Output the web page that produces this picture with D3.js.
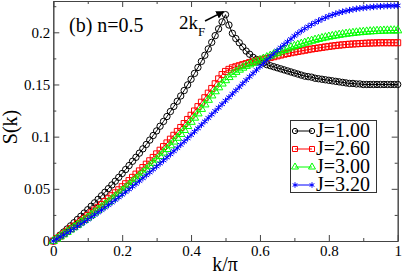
<!DOCTYPE html>
<html>
<head>
<meta charset="utf-8">
<script src="https://cdn.jsdelivr.net/npm/d3@7"></script>
<style>
  html, body { margin: 0; padding: 0; background: #fff; }
  svg { display: block; }
</style>
</head>
<body>
<div id="chart"></div>
<script>
// k/pi grid (one point every 0.01)
const kValues = [
  0.00, 0.01, 0.02, 0.03, 0.04, 0.05, 0.06, 0.07, 0.08, 0.09,
  0.10, 0.11, 0.12, 0.13, 0.14, 0.15, 0.16, 0.17, 0.18, 0.19,
  0.20, 0.21, 0.22, 0.23, 0.24, 0.25, 0.26, 0.27, 0.28, 0.29,
  0.30, 0.31, 0.32, 0.33, 0.34, 0.35, 0.36, 0.37, 0.38, 0.39,
  0.40, 0.41, 0.42, 0.43, 0.44, 0.45, 0.46, 0.47, 0.48, 0.49,
  0.50,
  0.51, 0.52, 0.53, 0.54, 0.55, 0.56, 0.57, 0.58, 0.59, 0.60,
  0.61, 0.62, 0.63, 0.64, 0.65, 0.66, 0.67, 0.68, 0.69, 0.70,
  0.71, 0.72, 0.73, 0.74, 0.75, 0.76, 0.77, 0.78, 0.79, 0.80,
  0.81, 0.82, 0.83, 0.84, 0.85, 0.86, 0.87, 0.88, 0.89, 0.90,
  0.91, 0.92, 0.93, 0.94, 0.95, 0.96, 0.97, 0.98, 0.99, 1.00
];

const sJ100 = [
  0, 0.0028, 0.0057, 0.0086, 0.0115, 0.0145, 0.0175, 0.0206, 0.0237, 0.0268,
  0.0300, 0.0333, 0.0366, 0.0399, 0.0433, 0.0467, 0.0502, 0.0537, 0.0573, 0.0610,
  0.0647, 0.0685, 0.0723, 0.0764, 0.0802, 0.0842, 0.0883, 0.0925, 0.0967, 0.1011,
  0.1055, 0.1100, 0.1146, 0.1193, 0.1241, 0.1290, 0.1339, 0.1390, 0.1442, 0.1496,
  0.1550, 0.1606, 0.1663, 0.1721, 0.1780, 0.1841, 0.1904, 0.1968, 0.2033, 0.2100,
  0.2169,
  0.207, 0.199, 0.194, 0.190, 0.186, 0.182, 0.179, 0.176, 0.174, 0.172,
  0.1705, 0.169, 0.168, 0.167, 0.166, 0.165, 0.164, 0.163, 0.162, 0.161,
  0.160, 0.159, 0.158, 0.1575, 0.157, 0.156, 0.1555, 0.155, 0.1545, 0.154,
  0.1535, 0.153, 0.1525, 0.152, 0.1515, 0.151, 0.151, 0.1505, 0.1505, 0.150,
  0.150, 0.150, 0.150, 0.150, 0.150, 0.150, 0.150, 0.150, 0.150, 0.150
];

const sJ260 = [
  0, 0.0023, 0.0047, 0.0070, 0.0094, 0.0119, 0.0143, 0.0168, 0.0193, 0.0218,
  0.0244, 0.0270, 0.0297, 0.0323, 0.0350, 0.0378, 0.0405, 0.0434, 0.0462, 0.0491,
  0.0520, 0.0549, 0.0579, 0.0610, 0.0641, 0.0672, 0.0704, 0.0736, 0.0769, 0.0801,
  0.0835, 0.0870, 0.0905, 0.0940, 0.0976, 0.1013, 0.1050, 0.1088, 0.1126, 0.1165,
  0.1205, 0.1246, 0.1288, 0.1330, 0.1373, 0.1417, 0.1462, 0.1507, 0.1554, 0.1595,
  0.1625,
  0.1645, 0.166, 0.167, 0.168, 0.169, 0.170, 0.171, 0.1718, 0.1726, 0.1734,
  0.1742, 0.175, 0.1758, 0.1766, 0.1774, 0.1782, 0.179, 0.1797, 0.1804, 0.181,
  0.1816, 0.1822, 0.1828, 0.1834, 0.184, 0.1845, 0.185, 0.1855, 0.186, 0.1865,
  0.1869, 0.1873, 0.1877, 0.188, 0.1883, 0.1886, 0.1888, 0.189, 0.1892, 0.1894,
  0.1896, 0.1897, 0.1898, 0.1899, 0.190, 0.190, 0.190, 0.190, 0.190, 0.190
];

const sJ300 = [
  0, 0.0021, 0.0043, 0.0064, 0.0086, 0.0109, 0.0131, 0.0154, 0.0177, 0.0200,
  0.0224, 0.0248, 0.0273, 0.0298, 0.0323, 0.0348, 0.0374, 0.0400, 0.0427, 0.0453,
  0.0481, 0.0509, 0.0537, 0.0566, 0.0595, 0.0624, 0.0654, 0.0685, 0.0716, 0.0748,
  0.0780, 0.0813, 0.0847, 0.0881, 0.0916, 0.0952, 0.0988, 0.1025, 0.1063, 0.1101,
  0.1141, 0.1181, 0.1222, 0.1265, 0.1308, 0.1352, 0.1394, 0.1434, 0.1472, 0.1508,
  0.1540,
  0.1570, 0.1597, 0.1620, 0.1641, 0.1660, 0.1677, 0.1692, 0.1706, 0.1719, 0.1732,
  0.1746, 0.1760, 0.1774, 0.1788, 0.1802, 0.1816, 0.1829, 0.1842, 0.1855, 0.1867,
  0.1878, 0.1889, 0.1899, 0.1909, 0.1918, 0.1927, 0.1935, 0.1943, 0.1950, 0.1957,
  0.1963, 0.1969, 0.1975, 0.1980, 0.1985, 0.1989, 0.1993, 0.1997, 0.2000, 0.2003,
  0.2006, 0.2008, 0.2010, 0.2012, 0.2014, 0.2015, 0.2016, 0.2017, 0.2017, 0.2018
];

const sJ320 = [
  0, 0.0019, 0.0039, 0.0058, 0.0079, 0.0099, 0.0120, 0.0141, 0.0162, 0.0184,
  0.0206, 0.0228, 0.0251, 0.0274, 0.0297, 0.0321, 0.0345, 0.0369, 0.0394, 0.0419,
  0.0444, 0.0470, 0.0495, 0.0522, 0.0548, 0.0575, 0.0602, 0.0630, 0.0657, 0.0686,
  0.0714, 0.0743, 0.0772, 0.0801, 0.0831, 0.0861, 0.0891, 0.0922, 0.0953, 0.0984,
  0.1016, 0.1048, 0.1080, 0.1113, 0.1146, 0.1179, 0.1212, 0.1245, 0.1278, 0.1311,
  0.1344,
  0.1377, 0.1410, 0.1443, 0.1476, 0.1509, 0.1542, 0.1575, 0.1607, 0.1639, 0.1671,
  0.1703, 0.1734, 0.1765, 0.1795, 0.1825, 0.1854, 0.1882, 0.1909, 0.1935, 0.1965,
  0.1990, 0.2013, 0.2035, 0.2056, 0.2075, 0.2093, 0.2110, 0.2126, 0.2141, 0.2155,
  0.2167, 0.2178, 0.2188, 0.2197, 0.2205, 0.2212, 0.2219, 0.2225, 0.2230, 0.2234,
  0.2238, 0.2241, 0.2244, 0.2247, 0.2249, 0.2251, 0.2253, 0.2254, 0.2255, 0.2256
];

const seriesLabels = ["J=1.00", "J=2.60", "J=3.00", "J=3.20"];
const seriesColors = ["#000000", "#ff0000", "#00ff00", "#0000ff"];
const seriesValues = [sJ100, sJ260, sJ300, sJ320];

const xMajorTicks = [0, 0.2, 0.4, 0.6, 0.8, 1];
const xMajorLabels = ["0", "0.2", "0.4", "0.6", "0.8", "1"];
const xMinorTicks = [0.1, 0.3, 0.5, 0.7, 0.9];
const yMajorTicks = [0, 0.05, 0.1, 0.15, 0.2];
const yMajorLabels = ["0", "0.05", "0.1", "0.15", "0.2"];
const yMinorTicks = [0.025, 0.075, 0.125, 0.175, 0.225];

const peakK = 0.5;
const peakS = 0.2169;

const W = 402, H = 276;
const plotLeft = 53.3, plotRight = 397.7, plotTop = 1, plotBottom = 241;
const serif = "Liberation Serif";

const svg = d3.select("#chart").append("svg")
  .attr("width", W).attr("height", H)
  .attr("font-family", serif);

const x = d3.scaleLinear().domain([0, 1]).range([plotLeft, plotRight]);
const y = d3.scaleLinear().domain([0, 0.23]).range([plotBottom, plotTop]);

const axisColor = "#444";

function styleAxis(g) {
  g.attr("font-family", serif);
  g.select(".domain").attr("stroke", axisColor);
  g.selectAll(".tick line").attr("stroke", axisColor);
  g.selectAll("text").attr("font-family", serif)
    .attr("font-size", 15).attr("fill", "#000");
}

// bottom
svg.append("g").attr("transform", `translate(0,${plotBottom})`)
  .call(d3.axisBottom(x).tickValues(xMajorTicks)
    .tickFormat((d, i) => xMajorLabels[i]).tickSizeInner(-6).tickSizeOuter(0).tickPadding(4))
  .call(styleAxis);
svg.append("g").attr("transform", `translate(0,${plotBottom})`)
  .call(d3.axisBottom(x).tickValues(xMinorTicks).tickFormat("").tickSizeInner(-3).tickSizeOuter(0))
  .call(styleAxis);
// top
svg.append("g").attr("transform", `translate(0,${plotTop})`)
  .call(d3.axisTop(x).tickValues(xMajorTicks).tickFormat("").tickSizeInner(-6).tickSizeOuter(0))
  .call(styleAxis);
svg.append("g").attr("transform", `translate(0,${plotTop})`)
  .call(d3.axisTop(x).tickValues(xMinorTicks).tickFormat("").tickSizeInner(-3).tickSizeOuter(0))
  .call(styleAxis);
// left
svg.append("g").attr("transform", `translate(${plotLeft},0)`)
  .call(d3.axisLeft(y).tickValues(yMajorTicks)
    .tickFormat((d, i) => yMajorLabels[i]).tickSizeInner(-6).tickSizeOuter(0).tickPadding(3))
  .call(styleAxis);
svg.append("g").attr("transform", `translate(${plotLeft},0)`)
  .call(d3.axisLeft(y).tickValues(yMinorTicks).tickFormat("").tickSizeInner(-3).tickSizeOuter(0))
  .call(styleAxis);
// right
svg.append("g").attr("transform", `translate(${plotRight},0)`)
  .call(d3.axisRight(y).tickValues(yMajorTicks).tickFormat("").tickSizeInner(-6).tickSizeOuter(0))
  .call(styleAxis);
svg.append("g").attr("transform", `translate(${plotRight},0)`)
  .call(d3.axisRight(y).tickValues(yMinorTicks).tickFormat("").tickSizeInner(-3).tickSizeOuter(0))
  .call(styleAxis);

// markers
const markerShapes = [
  { type: d3.symbolCircle, size: 32, fill: "none" },
  { type: d3.symbolSquare, size: 36, fill: "none" },
  { type: d3.symbolTriangle, size: 30, fill: "none" },
  { type: d3.symbolAsterisk, size: 30, fill: "none" }
];

const line = d3.line().x(d => x(d.k)).y(d => y(d.s));

seriesValues.forEach((vals, si) => {
  const pts = kValues.map((k, i) => ({ k, s: vals[i] }));
  const color = seriesColors[si];
  const g = svg.append("g");
  g.append("path").datum(pts)
    .attr("d", line).attr("fill", "none")
    .attr("stroke", color).attr("stroke-width", 1);
  const m = markerShapes[si];
  g.selectAll("path.mk").data(pts).enter().append("path")
    .attr("class", "mk")
    .attr("transform", d => `translate(${x(d.k)},${y(d.s)})`)
    .attr("d", d3.symbol().type(m.type).size(m.size))
    .attr("fill", m.fill)
    .attr("stroke", color).attr("stroke-width", 1);
});

function addText(px, py, size, str) {
  return svg.append("text").attr("x", px).attr("y", py)
    .attr("font-family", serif).attr("font-size", size).attr("fill", "#000").text(str);
}

// axis titles
addText(225, 271, 20, "k/π").attr("text-anchor", "middle");
svg.append("text").attr("transform", "translate(17,127) rotate(-90)")
  .attr("font-family", serif).attr("fill", "#000")
  .attr("text-anchor", "middle").attr("font-size", 20).text("S(k)");

// panel label
addText(69, 32, 20, "(b) n=0.5");

// 2kF annotation
const kf = addText(179, 29, 19, "");
kf.append("tspan").text("2k");
kf.append("tspan").attr("font-size", 13).attr("dy", 7).text("F");

svg.append("defs").append("marker")
  .attr("id", "arrow").attr("viewBox", "0 0 10 10")
  .attr("refX", 9).attr("refY", 5)
  .attr("markerWidth", 8).attr("markerHeight", 8)
  .attr("markerUnits", "userSpaceOnUse")
  .attr("orient", "auto")
  .append("path").attr("d", "M0,0L10,5L0,10z").attr("fill", "#000");

svg.append("line")
  .attr("x1", 205).attr("y1", 21)
  .attr("x2", x(peakK) - 2).attr("y2", y(peakS) - 3)
  .attr("stroke", "#000").attr("stroke-width", 1.5)
  .attr("marker-end", "url(#arrow)");

// legend
const lg = svg.append("g");
lg.append("rect").attr("x", 290.5).attr("y", 120.5).attr("width", 86).attr("height", 72)
  .attr("fill", "#fff").attr("stroke", "#333").attr("stroke-width", 1);
seriesLabels.forEach((lab, i) => {
  const base = 137 + i * 18;
  const cy = base - 6;
  const color = seriesColors[i];
  lg.append("line").attr("x1", 295).attr("x2", 312).attr("y1", cy).attr("y2", cy)
    .attr("stroke", color).attr("stroke-width", 1);
  const m = markerShapes[i];
  [295, 312].forEach(px => {
    lg.append("path").attr("transform", `translate(${px},${cy})`)
      .attr("d", d3.symbol().type(m.type).size(m.size * 0.7))
      .attr("fill", m.fill).attr("stroke", color).attr("stroke-width", 1);
  });
  lg.append("text").attr("x", 316).attr("y", base)
    .attr("font-family", serif).attr("fill", "#000")
    .attr("font-size", 20).text(lab);
});
</script>
</body>
</html>
